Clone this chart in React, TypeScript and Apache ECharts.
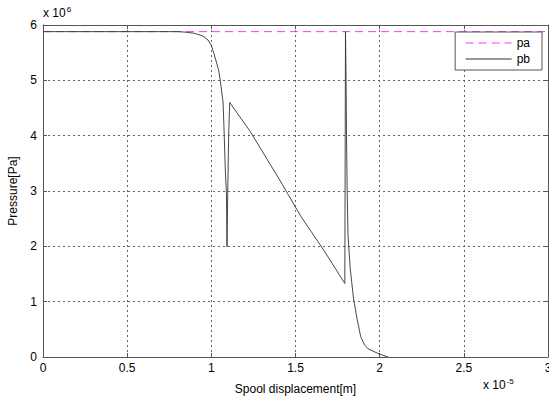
import React, { useEffect, useRef } from "react";
import * as echarts from "echarts";

// x in units of 1e-5 m, y in units of 1e6 Pa
const xTicks = [0, 0.5, 1, 1.5, 2, 2.5, 3];
const yTicks = [0, 1, 2, 3, 4, 5, 6];

const paX = [0, 3];
const paY = [5.88, 5.88];

const pbX = [0, 0.5, 0.8, 0.85, 0.9, 0.95, 0.98, 1.0, 1.015, 1.03, 1.043, 1.054, 1.07, 1.077, 1.083, 1.09, 1.093, 1.097, 1.103, 1.109,
  1.23, 1.41, 1.53, 1.67, 1.793, 1.797, 1.8, 1.803, 1.807, 1.812, 1.825, 1.845, 1.867, 1.887, 1.91, 1.93, 1.986, 2.02, 2.05];
const pbY = [5.88, 5.88, 5.88, 5.87, 5.85, 5.8, 5.73, 5.63, 5.49, 5.33, 5.19, 4.98, 4.59, 3.98, 3.38, 2.93, 1.99, 2.9, 4.0, 4.6,
  4.08, 3.18, 2.55, 1.92, 1.33, 5.88, 5.1, 4.0, 3.0, 2.2, 1.6, 1.05, 0.67, 0.37, 0.22, 0.15, 0.07, 0.03, 0.0];

const FONT = "'Liberation Sans', Arial, sans-serif";

export default function App() {
  const ref = useRef<HTMLDivElement>(null);
  useEffect(() => {
    if (!ref.current) return;
    const chart = echarts.init(ref.current, null, { renderer: "svg" });
    const gridLine = { show: true, lineStyle: { color: "#666", type: [2, 3] as any, width: 1 } };
    const axisLine = { show: true, onZero: false, lineStyle: { color: "#555", width: 1 } };
    const tick = { show: true, inside: true, length: 4, lineStyle: { color: "#555" } };
    chart.setOption({
      animation: false,
      textStyle: { fontFamily: FONT },
      grid: { left: 43, right: 1, top: 25, bottom: 44, containLabel: false, outerBoundsMode: "none" },
      xAxis: [
        {
          type: "value", min: xTicks[0], max: xTicks[xTicks.length - 1], interval: 0.5,
          axisLine, axisTick: tick,
          splitLine: gridLine,
          axisLabel: { color: "#000", fontSize: 12, fontFamily: FONT, margin: 5, formatter: (v: number) => String(v) },
          name: "Spool displacement[m]", nameLocation: "middle", nameGap: 26,
          nameTextStyle: { color: "#000", fontSize: 12, fontFamily: FONT },
        },
        {
          type: "value", min: xTicks[0], max: xTicks[xTicks.length - 1], interval: 0.5, position: "top",
          axisLine, axisTick: tick,
          splitLine: { show: false }, axisLabel: { show: false },
        },
      ],
      yAxis: [
        {
          type: "value", min: yTicks[0], max: yTicks[yTicks.length - 1], interval: 1,
          axisLine, axisTick: tick,
          splitLine: gridLine,
          axisLabel: { color: "#000", fontSize: 12, fontFamily: FONT, margin: 6 },
          name: "Pressure[Pa]", nameLocation: "middle", nameGap: 24, nameRotate: 90,
          nameTextStyle: { color: "#000", fontSize: 12, fontFamily: FONT },
        },
        {
          type: "value", min: yTicks[0], max: yTicks[yTicks.length - 1], interval: 1, position: "right",
          axisLine, axisTick: tick,
          splitLine: { show: false }, axisLabel: { show: false },
        },
      ],
      legend: {
        orient: "vertical", right: 7, top: 32,
        itemWidth: 46, itemHeight: 14, itemGap: 4,
        padding: [5, 12, 5, 10],
        backgroundColor: "#fff", borderColor: "#555", borderWidth: 1,
        itemStyle: { opacity: 0 },
        lineStyle: { width: 1 },
        textStyle: { color: "#000", fontSize: 12, fontFamily: FONT },
        data: ["pa", "pb"],
      },
      series: [
        {
          name: "pa", type: "line", showSymbol: false, symbol: "none",
          data: paX.map((x, i) => [x, paY[i]]),
          lineStyle: { color: "#ff33ff", width: 1, type: [8, 5] as any },
          itemStyle: { color: "#ff33ff" },
        },
        {
          name: "pb", type: "line", showSymbol: false, symbol: "none",
          data: pbX.map((x, i) => [x, pbY[i]]),
          lineStyle: { color: "#333", width: 0.9 },
          itemStyle: { color: "#333" },
        },
      ],
      graphic: [
        {
          type: "text", left: 43, top: 5,
          style: {
            text: "{a|x 10}{s|6}", fill: "#000",
            rich: { a: { fontSize: 12, fontFamily: FONT, verticalAlign: "bottom" }, s: { fontSize: 8, fontFamily: FONT, verticalAlign: "top", padding: [0, 0, 6, 1] } },
          },
        },
        {
          type: "text", left: 483, top: 377,
          style: {
            text: "{a|x 10}{s|-5}", fill: "#000",
            rich: { a: { fontSize: 12, fontFamily: FONT, verticalAlign: "bottom" }, s: { fontSize: 8, fontFamily: FONT, verticalAlign: "top", padding: [0, 0, 6, 1] } },
          },
        },
      ],
    });
    return () => chart.dispose();
  }, []);
  return <div ref={ref} style={{ width: 549, height: 401, position: "absolute", left: 0, top: 0, background: "#fff" }} />;
}
